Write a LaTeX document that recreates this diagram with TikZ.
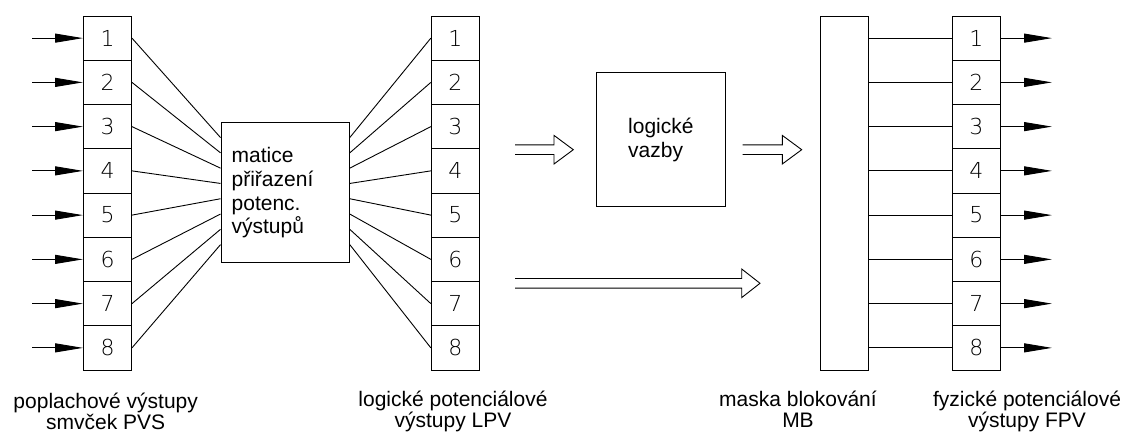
\documentclass[tikz,border=0pt]{standalone}
\usepackage{fontspec}
\setmainfont{Liberation Sans}
\newfontfamily\numfont{DejaVu Sans ExtraLight}
\usetikzlibrary{arrows.meta,calc}

% hollow double-line arrow: start x, head base x, tip x, centre y
\newcommand\fatarrow[4]{%
  \draw[hollow] (#1,#4-4.8) -- (#2,#4-4.8) -- (#2,#4-14.3) -- (#3,#4)
    -- (#2,#4+14.3) -- (#2,#4+4.8) -- (#1,#4+4.8);}

\begin{document}
\begin{tikzpicture}[x=1pt,y=-1pt,line width=0.9pt,
  cell/.style={draw,minimum width=48pt,minimum height=44.25pt,inner sep=0pt,
    font=\numfont\fontsize{22}{22}\selectfont},
  block/.style={draw,inner sep=0pt},
  wire/.style={line width=0.9pt},
  inarrow/.style={wire,-{Triangle[length=28pt,width=9pt]}},
  hollow/.style={line width=0.9pt,line join=miter},
  boxtext/.style={font=\fontsize{21}{23.8}\selectfont,align=left},
  lbl/.style={font=\fontsize{21}{21}\selectfont,align=center,inner sep=0pt}
]
\useasboundingbox (0,0) rectangle (1125,435);

% three columns of numbered cells
\foreach \i in {1,...,8} {
  \pgfmathsetmacro\yy{16+44.25*(\i-0.5)}
  \node[cell] (a\i) at (107.5,\yy) {\i};
  \node[cell] (b\i) at (455.3,\yy) {\i};
  \node[cell] (d\i) at (976.3,\yy) {\i};
}

% assignment matrix
\node[block,boxtext,minimum height=140pt,text width=107pt,inner xsep=10.7pt]
  (mx) at (285.15,192.7) {matice\\přiřazení\\potenc.\\výstupů};

% logic relations
\node[block,boxtext,minimum height=134.3pt,text width=66pt,inner xsep=31.5pt]
  (lv) at (661.2,139.8) {logické\\vazby};

% blocking mask
\node[block,minimum width=47.6pt,minimum height=354pt] (mb) at (844.5,193) {};

% wiring
\foreach \i in {1,...,8} {
  \pgfmathsetmacro\yy{16+44.25*(\i-0.5)}
  \coordinate (ml\i) at ($(mx.north west)+(0,15.3*\i)$);
  \coordinate (mr\i) at ($(mx.north east)+(0,15.3*\i)$);
  \coordinate (s\i) at (32,\yy);
  \coordinate (t\i) at (1052,\yy);
  \draw[wire] (a\i.east) -- (ml\i);
  \draw[wire] (mr\i) -- (b\i.west);
  \draw[wire] (mb.east |- d\i) -- (d\i.west);
  \draw[inarrow] (s\i) -- (a\i.west);
  \draw[inarrow] (d\i.east) -- (t\i);
}

% bus arrows
\fatarrow{515}{554}{573.3}{149.7}
\fatarrow{742.7}{782.3}{801.7}{149.7}
\fatarrow{515}{741.7}{760}{283.3}

% captions (base anchor sits on the last line)
\node[lbl,anchor=base] (l1) at (105.7,430) {poplachové výstupy\\smvček PVS};
\node[lbl,anchor=base] (l2) at (453,428) {logické potenciálové\\výstupy LPV};
\node[lbl,anchor=base] (l3) at (798,428) {maska blokování\\MB};
\node[lbl,anchor=base] (l4) at (1027,428) {fyzické potenciálové\\výstupy FPV};
\end{tikzpicture}
\end{document}
